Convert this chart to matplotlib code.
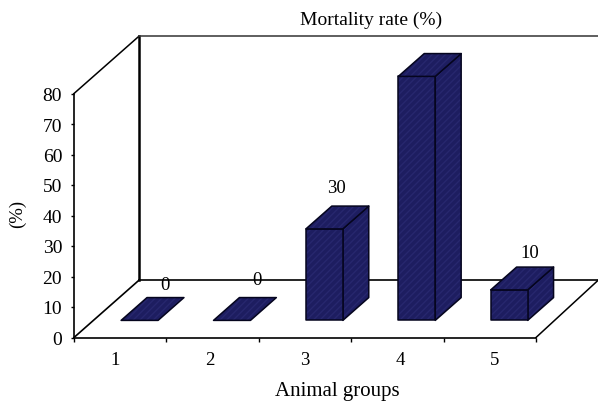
import matplotlib
matplotlib.use('Agg')
import matplotlib.pyplot as plt
from matplotlib.patches import Polygon

groups = ['1', '2', '3', '4', '5']
mortality = [0, 0, 30, 80, 10]
y_ticks = [0, 10, 20, 30, 40, 50, 60, 70, 80]

plt.rcParams['font.family'] = 'Liberation Serif'

# oblique projection: depth 1 = back wall, in data units of the front axes
DX = 0.70
DY = 18.7
X_END = 5.67  # wall runs off to the right edge of the picture


def proj(x, y, d):
    return (x + d * DX, y + d * DY)


def face(ax, pts, z):
    ax.add_patch(Polygon(pts, closed=True, facecolor='#1d1d60', edgecolor='#27276e',
                         hatch='/////', lw=0, clip_on=False, zorder=z))
    ax.add_patch(Polygon(pts, closed=True, fill=False, edgecolor='#05051e',
                         lw=1.1, clip_on=False, zorder=z + 0.1, joinstyle='round'))


fig = plt.figure(figsize=(5.98, 4.06), dpi=100)
W, H = 598.0, 406.0
ax = fig.add_axes([74 / W, (H - 338.5) / H, 462 / W, 244 / H])
ax.set_xlim(0, 5)
ax.set_ylim(0, 80)
ax.patch.set_visible(False)
for side in ['top', 'right']:
    ax.spines[side].set_visible(False)
for side in ['left', 'bottom']:
    ax.spines[side].set_linewidth(1.2)

ax.set_yticks(y_ticks)
ax.set_xticks(range(6))
ax.set_xticklabels([])
ax.tick_params(axis='y', length=2, width=1, labelsize=14, pad=6.5)
ax.tick_params(axis='x', length=3, width=1)

# group numbers sit a bit off the tick midpoints in the original
label_x = [0.44, 1.47, 2.5, 3.53, 4.55]
for lx, g in zip(label_x, groups):
    ax.annotate(g, xy=(lx, 0), xycoords='data', xytext=(0, -22),
                textcoords='offset pixels', ha='center', va='center', fontsize=13.5)

# walls and floor
wall = dict(color='black', clip_on=False, zorder=1)
bx, by = proj(0, 0, 1)
tx, ty = proj(0, 80, 1)
ax.plot([0, bx], [0, by], lw=1.2, **wall)
ax.plot([0, tx], [80, ty], lw=1.1, **wall)
ax.plot([bx, tx], [by, ty], lw=1.8, **wall)
ax.plot([tx, X_END], [ty, ty], lw=1.1, color='#333333', clip_on=False, zorder=1)
ax.plot([bx, X_END], [by, by], lw=1.2, **wall)
ax.plot([5, X_END], [0, by], lw=1.1, **wall)

# bars
d0, d1 = 0.3, 0.7
half = 0.2
label_offset = [(25, 36), (25, 41), (12, 41), (54, 23), (21, 37)]
for i, v in enumerate(mortality):
    xc = i + 0.5
    xl, xr = xc - half, xc + half
    front = [proj(xl, 0, d0), proj(xr, 0, d0), proj(xr, v, d0), proj(xl, v, d0)]
    top = [proj(xl, v, d0), proj(xr, v, d0), proj(xr, v, d1), proj(xl, v, d1)]
    side = [proj(xr, 0, d0), proj(xr, 0, d1), proj(xr, v, d1), proj(xr, v, d0)]
    z = 3 + i
    if v > 0:
        face(ax, side, z)
        face(ax, front, z + 0.2)
    face(ax, top, z + 0.4)
    ax.annotate(str(v), xy=proj(xc, v, d0), xycoords='data', xytext=label_offset[i],
                textcoords='offset pixels', ha='center', va='center', fontsize=13.5, zorder=10)

fig.text(371 / W, 1 - 20 / H, 'Mortality rate (%)', ha='center', va='center', fontsize=14)
fig.text(337 / W, 1 - 392 / H, 'Animal groups', ha='center', va='center', fontsize=15)
fig.text(17 / W, 1 - 214 / H, '(%)', ha='center', va='center', rotation=90, fontsize=13.5)

fig.savefig('out.png', dpi=100)
